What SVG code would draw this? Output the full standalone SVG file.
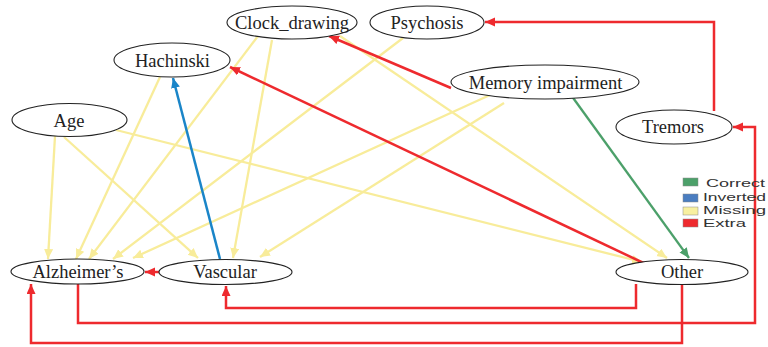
<svg xmlns="http://www.w3.org/2000/svg" width="768" height="347" viewBox="0 0 768 347">
<style>
.node ellipse{fill:#fff;stroke:#222;stroke-width:1.1}
.node text{font-family:"Liberation Serif","Times New Roman",serif;font-size:18.5px;fill:#222;text-anchor:middle}
.e{fill:none;stroke-linejoin:miter}
.red{stroke:#ee2a2e;stroke-width:2.5}
.yel{stroke:#f8ec9a;stroke-width:2.3}
.blu{stroke:#1a85c8;stroke-width:2.5}
.grn{stroke:#4ca06a;stroke-width:2.3}
.leg text{font-family:"Liberation Sans",Arial,sans-serif;font-size:11.5px;fill:#333}
</style>
<defs>
<marker id="ar" markerUnits="userSpaceOnUse" markerWidth="12" markerHeight="10" refX="10" refY="4.5" orient="auto"><path d="M0,0 L10,4.5 L0,9 Z" fill="#ee2a2e"/></marker>
<marker id="ay" markerUnits="userSpaceOnUse" markerWidth="12" markerHeight="10" refX="10" refY="4.5" orient="auto"><path d="M0,0 L10,4.5 L0,9 Z" fill="#f8ec9a"/></marker>
<marker id="ab" markerUnits="userSpaceOnUse" markerWidth="12" markerHeight="10" refX="10" refY="4.5" orient="auto"><path d="M0,0 L10,4.5 L0,9 Z" fill="#1a85c8"/></marker>
<marker id="ag" markerUnits="userSpaceOnUse" markerWidth="12" markerHeight="10" refX="10" refY="4.5" orient="auto"><path d="M0,0 L10,4.5 L0,9 Z" fill="#4ca06a"/></marker>
</defs>
<rect width="768" height="347" fill="#fff"/>
<g id="connectors">
<path class="e yel" marker-end="url(#ay)" d="M55,136 L48,259"/>
<path class="e yel" marker-end="url(#ay)" d="M64,137 L198,258"/>
<path class="e yel" marker-end="url(#ay)" d="M116,130 L642,262"/>
<path class="e yel" marker-end="url(#ay)" d="M160,77 L76,259"/>
<path class="e yel" marker-end="url(#ay)" d="M258,36 L89,259"/>
<path class="e yel" marker-end="url(#ay)" d="M272,40 L233,258"/>
<path class="e yel" marker-end="url(#ay)" d="M340,36 L667,258"/>
<path class="e yel" marker-end="url(#ay)" d="M403,38 L113,259"/>
<path class="e yel" marker-end="url(#ay)" d="M490,95 L133,258"/>
<path class="e yel" marker-end="url(#ay)" d="M504,103 L260,257"/>
<path class="e red" marker-end="url(#ar)" d="M714,111 V22 H485"/>
<path class="e red" marker-end="url(#ar)" d="M451,88 L329,36"/>
<path class="e red" marker-end="url(#ar)" d="M652,267 L230,67"/>
<path class="e red" marker-end="url(#ar)" d="M159,272 L145,272"/>
<path class="e red" marker-end="url(#ar)" d="M636,284 V308 H226 V286"/>
<path class="e red" marker-end="url(#ar)" d="M78,284 V323 H755 V127 H733"/>
<path class="e red" marker-end="url(#ar)" d="M682,285 V343 H31 V284"/>
<path class="e blu" marker-end="url(#ab)" d="M220,259 L173,78"/>
<path class="e grn" marker-end="url(#ag)" d="M571,95 L689,258"/>
</g>
<g id="Clock_drawing" class="node"><ellipse cx="292" cy="22.5" rx="65" ry="16.5"/><text x="292" y="29">Clock_drawing</text></g>
<g id="Psychosis" class="node"><ellipse cx="427" cy="22.5" rx="57" ry="16.5"/><text x="427" y="29">Psychosis</text></g>
<g id="Hachinski" class="node"><ellipse cx="172" cy="60" rx="58" ry="17"/><text x="172.5" y="67">Hachinski</text></g>
<g id="Memory_impairment" class="node"><ellipse cx="545" cy="82" rx="94" ry="17"/><text x="545.5" y="89">Memory impairment</text></g>
<g id="Age" class="node"><ellipse cx="69.5" cy="120" rx="57.5" ry="16.5"/><text x="69" y="127">Age</text></g>
<g id="Tremors" class="node"><ellipse cx="674" cy="127" rx="58" ry="17"/><text x="673" y="133">Tremors</text></g>
<g id="Alzheimers" class="node"><ellipse cx="77.5" cy="271.5" rx="66.5" ry="12.5"/><text x="78" y="278">Alzheimer’s</text></g>
<g id="Vascular" class="node"><ellipse cx="225.5" cy="272" rx="66.5" ry="12.5"/><text x="225" y="278">Vascular</text></g>
<g id="Other" class="node"><ellipse cx="682" cy="272" rx="66" ry="12.5"/><text x="682" y="278">Other</text></g>
<g id="legend" class="leg">
<rect x="683" y="178" width="15" height="8" fill="#4ca06a" stroke="#8a8a8a" stroke-width="0.5"/>
<text x="706" y="187" textLength="59" lengthAdjust="spacingAndGlyphs">Correct</text>
<rect x="683" y="194" width="15" height="8" fill="#4a7dc0" stroke="#8a8a8a" stroke-width="0.5"/>
<text x="703" y="201" textLength="63" lengthAdjust="spacingAndGlyphs">Inverted</text>
<rect x="683" y="207" width="15" height="8" fill="#f8f0a0" stroke="#8a8a8a" stroke-width="0.5"/>
<text x="703" y="214" textLength="63" lengthAdjust="spacingAndGlyphs">Missing</text>
<rect x="683" y="219" width="15" height="8" fill="#ee2a2e" stroke="#8a8a8a" stroke-width="0.5"/>
<text x="703" y="227" textLength="43" lengthAdjust="spacingAndGlyphs">Extra</text>
</g>
</svg>
